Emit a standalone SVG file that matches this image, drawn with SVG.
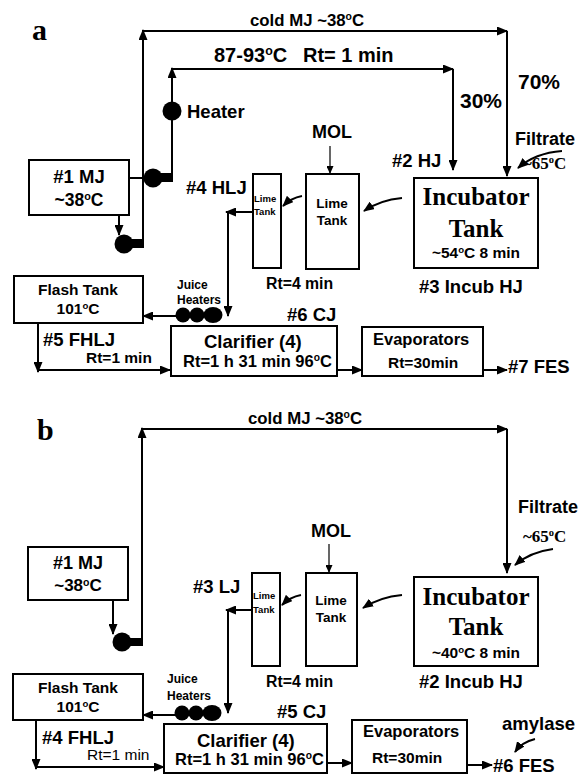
<svg xmlns="http://www.w3.org/2000/svg" width="581" height="775" viewBox="0 0 581 775">
<style>
.s{font-family:"Liberation Sans",Arial,sans-serif;font-weight:bold;fill:#000}
.r{font-family:"Liberation Sans",Arial,sans-serif;font-weight:normal;fill:#000}
.sf{font-family:"Liberation Serif","Times New Roman",serif;font-weight:bold;fill:#000}
.m{text-anchor:middle}
.ln{stroke:#000;stroke-width:2;fill:none}
.th{stroke:#000;stroke-width:1.2;fill:none}
.bx{fill:#fff;stroke:#000;stroke-width:2}
.sup{font-size:62%}
</style>
<defs>
<marker id="ah" markerUnits="userSpaceOnUse" markerWidth="11" markerHeight="9" refX="10" refY="4.5" orient="auto"><path d="M0,0 L11,4.5 L0,9 z" fill="#000"/></marker>
<marker id="ahs" markerUnits="userSpaceOnUse" markerWidth="8" markerHeight="7" refX="8" refY="3.5" orient="auto"><path d="M0,0 L8,3.5 L0,7 z" fill="#000"/></marker>
</defs>
<rect width="581" height="775" fill="#fff"/>

<!-- ================= PART A ================= -->
<text class="sf" x="32" y="40" font-size="30">a</text>

<g id="connectors-a">
  <line class="ln" x1="143" y1="248" x2="143" y2="30" marker-end="url(#ah)"/>
  <line class="ln" x1="143" y1="31" x2="507" y2="31" marker-end="url(#ah)"/>
  <line class="ln" x1="507" y1="31" x2="507" y2="176" marker-end="url(#ah)"/>
  <line class="ln" x1="172" y1="182" x2="172" y2="68" marker-end="url(#ah)"/>
  <line class="ln" x1="172" y1="69" x2="453" y2="69" marker-end="url(#ah)"/>
  <line class="ln" x1="453" y1="69" x2="453" y2="170" marker-end="url(#ah)"/>
  <line class="ln" x1="129" y1="178" x2="145" y2="178"/>
  <line class="ln" x1="119" y1="215" x2="119" y2="235" marker-end="url(#ah)"/>
  <line class="th" x1="330" y1="146" x2="330" y2="174" marker-end="url(#ahs)"/>
  <path class="ln" d="M562,151 Q535,153 518,168" marker-end="url(#ah)"/>
  <path class="ln" d="M402,198 Q380,200 364,211" marker-end="url(#ah)"/>
  <path class="ln" d="M302,196 Q291,198 283,206" marker-end="url(#ah)"/>
  <line class="ln" x1="253" y1="212" x2="226" y2="212" marker-end="url(#ah)"/>
  <line class="ln" x1="228" y1="212" x2="228" y2="316" marker-end="url(#ah)"/>
  <line class="ln" x1="176" y1="316" x2="143" y2="316" marker-end="url(#ah)"/>
  <line class="ln" x1="38" y1="323" x2="38" y2="372" marker-end="url(#ah)"/>
  <line class="ln" x1="38" y1="370" x2="170" y2="370" marker-end="url(#ah)"/>
  <line class="ln" x1="337" y1="370" x2="362" y2="370" marker-end="url(#ah)"/>
  <line class="ln" x1="483" y1="370" x2="507" y2="370" marker-end="url(#ah)"/>
</g>

<g id="a-mj">
  <rect class="bx" x="29" y="160" width="100" height="55"/>
  <text class="s m" x="79" y="183" font-size="18.5">#1 MJ</text>
  <text class="s m" x="79" y="206" font-size="17.5">~38<tspan class="sup" dy="-6">o</tspan><tspan dy="6">C</tspan></text>
</g>
<g id="a-pump1">
  <circle cx="153" cy="178" r="9.5" fill="#000"/>
  <rect x="160" y="173" width="13" height="9" fill="#000"/>
</g>
<g id="a-pump2">
  <circle cx="124" cy="244" r="9.5" fill="#000"/>
  <rect x="131" y="239" width="13" height="9" fill="#000"/>
</g>
<g id="a-heater">
  <circle cx="172" cy="111" r="9.5" fill="#000"/>
  <text class="s" x="187" y="118" font-size="18.5">Heater</text>
</g>
<g id="a-labels">
  <text class="s" x="250" y="26" font-size="16.8">cold MJ ~38<tspan class="sup" dy="-6">o</tspan><tspan dy="6">C</tspan></text>
  <text class="s" x="214" y="62" font-size="20">87-93<tspan class="sup" dy="-7">o</tspan><tspan dy="7">C</tspan><tspan x="303">Rt= 1 min</tspan></text>
  <text class="s" x="460" y="108" font-size="21">30%</text>
  <text class="s" x="518" y="89" font-size="21">70%</text>
  <text class="s" x="515" y="145" font-size="18">Filtrate</text>
  <text class="sf" x="523" y="169" font-size="17">~65<tspan class="sup" dy="-6">o</tspan><tspan dy="6">C</tspan></text>
  <text class="s" x="392" y="167" font-size="18.5">#2 HJ</text>
  <text class="s" x="312" y="138" font-size="18">MOL</text>
  <text class="s" x="186" y="194" font-size="18.5">#4 HLJ</text>
  <text class="s" x="266" y="289" font-size="15.8">Rt=4 min</text>
  <text class="s" x="419" y="293" font-size="18.5">#3  Incub HJ</text>
  <text class="s" x="43" y="346" font-size="18.5">#5 FHLJ</text>
  <text class="s" x="86" y="363" font-size="15.5">Rt=1 min</text>
  <text class="s" x="287" y="321" font-size="18.5">#6 CJ</text>
  <text class="s" x="508" y="373" font-size="18.5">#7 FES</text>
</g>
<g id="a-limetank-small">
  <rect class="bx" x="253" y="174" width="28" height="94"/>
  <text class="s" x="254" y="202" font-size="9.5">Lime</text>
  <text class="s" x="254" y="215" font-size="9.5">Tank</text>
</g>
<g id="a-limetank">
  <rect class="bx" x="306" y="174" width="53" height="95"/>
  <text class="s m" x="332" y="208" font-size="13.5">Lime</text>
  <text class="s m" x="332" y="225" font-size="13.5">Tank</text>
</g>
<g id="a-incubator">
  <rect class="bx" x="414" y="178" width="124" height="90"/>
  <text class="sf m" x="476" y="205" font-size="25">Incubator</text>
  <text class="sf m" x="476" y="237" font-size="25">Tank</text>
  <text class="s m" x="476" y="258" font-size="15.5">~54<tspan class="sup" dy="-5">o</tspan><tspan dy="5">C  8 min</tspan></text>
</g>
<g id="a-flash">
  <rect class="bx" x="14" y="276" width="129" height="47"/>
  <text class="s m" x="78" y="295" font-size="15.5">Flash Tank</text>
  <text class="s m" x="78" y="314" font-size="15.5">101<tspan class="sup" dy="-5">o</tspan><tspan dy="5">C</tspan></text>
</g>
<g id="a-juiceheaters">
  <ellipse cx="183" cy="315" rx="7.5" ry="7.5" fill="#000"/>
  <ellipse cx="197" cy="315" rx="7.5" ry="7.5" fill="#000"/>
  <ellipse cx="213" cy="315" rx="9.5" ry="8" fill="#000"/>
  <text class="s" x="177" y="289" font-size="12">Juice</text>
  <text class="s" x="177" y="304" font-size="12">Heaters</text>
</g>
<g id="a-clarifier">
  <rect class="bx" x="171" y="326" width="166" height="50"/>
  <text class="s" x="204" y="348" font-size="18.5">Clarifier (4)</text>
  <text class="s" x="183" y="367" font-size="16.5">Rt=1 h 31 min 96<tspan class="sup" dy="-6">o</tspan><tspan dy="6">C</tspan></text>
</g>
<g id="a-evaporators">
  <rect class="bx" x="362" y="327" width="121" height="49"/>
  <text class="s" x="373" y="345" font-size="16.5">Evaporators</text>
  <text class="s" x="388" y="368" font-size="15.5">Rt=30min</text>
</g>

<!-- ================= PART B ================= -->
<text class="sf" x="37" y="440" font-size="30">b</text>

<g id="connectors-b">
  <line class="ln" x1="142" y1="646" x2="142" y2="428" marker-end="url(#ah)"/>
  <line class="ln" x1="142" y1="429" x2="507" y2="429" marker-end="url(#ah)"/>
  <line class="ln" x1="507" y1="429" x2="507" y2="573" marker-end="url(#ah)"/>
  <line class="ln" x1="113" y1="600" x2="113" y2="634" marker-end="url(#ah)"/>
  <line class="th" x1="329" y1="544" x2="329" y2="573" marker-end="url(#ahs)"/>
  <path class="ln" d="M553,549 Q530,552 515,565" marker-end="url(#ah)"/>
  <path class="ln" d="M402,595 Q380,597 363,608" marker-end="url(#ah)"/>
  <path class="ln" d="M301,595 Q290,597 282,605" marker-end="url(#ah)"/>
  <line class="ln" x1="252" y1="610" x2="226" y2="610" marker-end="url(#ah)"/>
  <line class="ln" x1="228" y1="610" x2="228" y2="713" marker-end="url(#ah)"/>
  <line class="ln" x1="175" y1="715" x2="143" y2="715" marker-end="url(#ah)"/>
  <line class="ln" x1="36" y1="720" x2="36" y2="769" marker-end="url(#ah)"/>
  <line class="ln" x1="36" y1="767" x2="164" y2="767" marker-end="url(#ah)"/>
  <line class="ln" x1="327" y1="763" x2="352" y2="763" marker-end="url(#ah)"/>
  <line class="ln" x1="467" y1="765" x2="492" y2="765" marker-end="url(#ah)"/>
  <path class="ln" d="M535,739 Q522,742 515,752" marker-end="url(#ah)"/>
</g>

<g id="b-mj">
  <rect class="bx" x="28" y="547" width="100" height="53"/>
  <text class="s m" x="78" y="569" font-size="18">#1 MJ</text>
  <text class="s m" x="78" y="591" font-size="17">~38<tspan class="sup" dy="-5">o</tspan><tspan dy="5">C</tspan></text>
</g>
<g id="b-pump">
  <circle cx="122" cy="642" r="9.5" fill="#000"/>
  <rect x="129" y="638" width="14" height="8" fill="#000"/>
</g>
<g id="b-labels">
  <text class="s" x="248" y="424" font-size="16.8">cold MJ ~38<tspan class="sup" dy="-6">o</tspan><tspan dy="6">C</tspan></text>
  <text class="s" x="518" y="513" font-size="18">Filtrate</text>
  <text class="sf" x="523" y="542" font-size="17">~65<tspan class="sup" dy="-6">o</tspan><tspan dy="6">C</tspan></text>
  <text class="s" x="311" y="537" font-size="18">MOL</text>
  <text class="s" x="193" y="593" font-size="18.5">#3 LJ</text>
  <text class="s" x="266" y="687" font-size="15.8">Rt=4 min</text>
  <text class="s" x="419" y="688" font-size="18.5">#2  Incub HJ</text>
  <text class="s" x="42" y="744" font-size="18.5">#4 FHLJ</text>
  <text class="r" x="87" y="760" font-size="15.5">Rt=1 min</text>
  <text class="s" x="277" y="718" font-size="18.5">#5 CJ</text>
  <text class="s" x="493" y="772" font-size="18.5">#6 FES</text>
  <text class="s" x="502" y="730" font-size="18.5">amylase</text>
</g>
<g id="b-limetank-small">
  <rect class="bx" x="252" y="573" width="28" height="93"/>
  <text class="s" x="253" y="599" font-size="9.5">Lime</text>
  <text class="s" x="253" y="613" font-size="9.5">Tank</text>
</g>
<g id="b-limetank">
  <rect class="bx" x="306" y="573" width="51" height="93"/>
  <text class="s m" x="331" y="605" font-size="13.5">Lime</text>
  <text class="s m" x="331" y="622" font-size="13.5">Tank</text>
</g>
<g id="b-incubator">
  <rect class="bx" x="414" y="577" width="124" height="89"/>
  <text class="sf m" x="476" y="605" font-size="25">Incubator</text>
  <text class="sf m" x="476" y="635" font-size="25">Tank</text>
  <text class="s m" x="476" y="658" font-size="15.5">~40<tspan class="sup" dy="-5">o</tspan><tspan dy="5">C  8 min</tspan></text>
</g>
<g id="b-flash">
  <rect class="bx" x="13" y="674" width="130" height="46"/>
  <text class="s m" x="78" y="693" font-size="15.5">Flash Tank</text>
  <text class="s m" x="78" y="712" font-size="15.5">101<tspan class="sup" dy="-5">o</tspan><tspan dy="5">C</tspan></text>
</g>
<g id="b-juiceheaters">
  <ellipse cx="182" cy="713" rx="7.5" ry="7.5" fill="#000"/>
  <ellipse cx="196" cy="713" rx="7.5" ry="7.5" fill="#000"/>
  <ellipse cx="212" cy="713" rx="9.5" ry="8" fill="#000"/>
  <text class="s" x="167" y="683" font-size="12">Juice</text>
  <text class="s" x="167" y="700" font-size="12">Heaters</text>
</g>
<g id="b-clarifier">
  <rect class="bx" x="164" y="724" width="163" height="49"/>
  <text class="s" x="197" y="747" font-size="18.5">Clarifier (4)</text>
  <text class="s" x="175" y="765" font-size="16.5">Rt=1 h 31 min 96<tspan class="sup" dy="-6">o</tspan><tspan dy="6">C</tspan></text>
</g>
<g id="b-evaporators">
  <rect class="bx" x="352" y="720" width="115" height="53"/>
  <text class="s" x="363" y="737" font-size="16.5">Evaporators</text>
  <text class="s" x="372" y="763" font-size="15.5">Rt=30min</text>
</g>
</svg>
